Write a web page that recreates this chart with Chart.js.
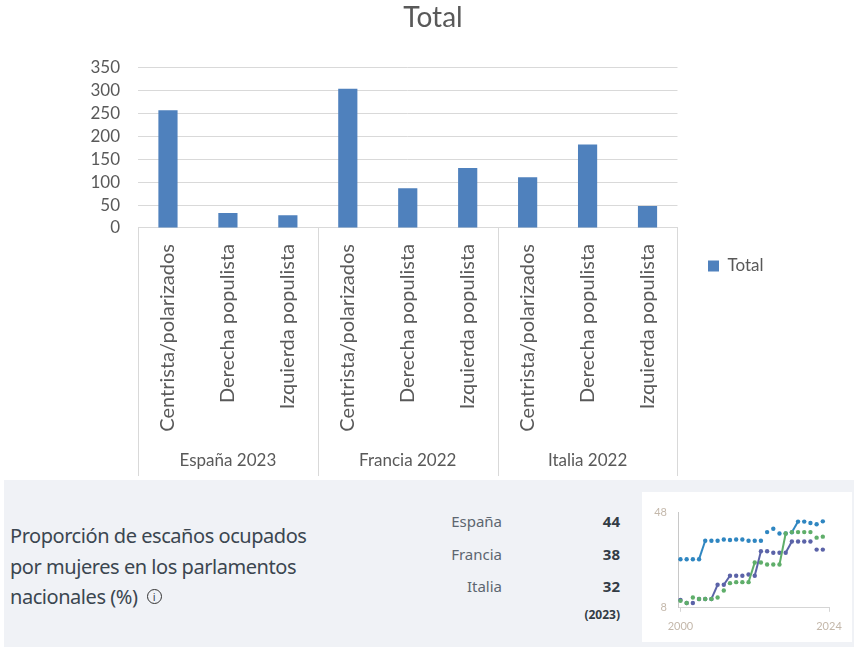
<!DOCTYPE html>
<html lang="es">
<head>
<meta charset="utf-8">
<title>Total</title>
<script src="https://cdn.jsdelivr.net/npm/chart.js@4"></script>
<style>
  html, body { margin: 0; padding: 0; background: #fff; }
  body { width: 854px; height: 647px; position: relative; overflow: hidden; font-family: "Noto Sans", sans-serif; }
  #totalChart { position: absolute; left: 0; top: 0; }
  #panel { position: absolute; left: 4px; top: 480px; width: 850px; height: 167px; background: #f0f2f6; }
  #card { position: absolute; left: 638px; top: 12px; width: 210px; height: 150px; background: #fff; }
  #seatsChart { position: absolute; left: 0; top: 0; }
  #label { position: absolute; left: 6px; top: 41px; font-size: 20px; line-height: 30.5px; color: #3b4650; letter-spacing: -0.45px; white-space: nowrap; }
  .info { display: inline-block; width: 13px; height: 13px; border: 1.5px solid #333; border-radius: 50%; font-size: 11px; line-height: 13px; text-align: center; margin-left: 9px; vertical-align: 3px; }
  .name, .val { position: absolute; font-size: 15px; line-height: 20px; white-space: nowrap; }
  .name { right: 352px; color: #5d6670; }
  .val { right: 234px; color: #333c45; font-weight: 700; }
  #year { position: absolute; right: 234px; top: 127px; font-size: 12px; line-height: 16px; font-weight: 700; color: #333c45; }
</style>
</head>
<body>
<canvas id="totalChart" width="854" height="478"></canvas>
<div id="panel">
  <div id="label">Proporción de escaños ocupados<br>por mujeres en los parlamentos<br>nacionales (%)<span class="info">i</span></div>
  <div id="rows"></div>
  <div id="year">(2023)</div>
  <div id="card"><canvas id="seatsChart" width="210" height="150"></canvas></div>
</div>
<script>
// Seats by bloc
const categories = ['Centrista/polarizados', 'Derecha populista', 'Izquierda populista',
  'Centrista/polarizados', 'Derecha populista', 'Izquierda populista',
  'Centrista/polarizados', 'Derecha populista', 'Izquierda populista'];
const groups = ['España 2023', 'Francia 2022', 'Italia 2022'];
const totals = [257, 33, 28, 304, 87, 131, 111, 182, 48];
const totalTicks = [0, 50, 100, 150, 200, 250, 300, 350];

// Women in parliament (%)
const years = [2000, 2001, 2002, 2003, 2004, 2005, 2006, 2007, 2008, 2009, 2010, 2011,
  2012, 2013, 2014, 2015, 2016, 2017, 2018, 2019, 2020, 2021, 2022, 2023];
const espana = [28.3, 28.3, 28.3, 28.3, 36, 36, 36, 36.5, 36.3, 36.5, 36.5, 36,
  36, 36, 39.6, 41, 39, 39, 39.5, 44, 44, 43.4, 42.9, 44.1];
const francia = [10.9, 10, 12.3, 11.7, 11.7, 11.7, 12.3, 15.2, 18.3, 18.7, 18.7, 18.7,
  26.9, 26.9, 26.1, 26.1, 26.1, 39, 39.6, 39.6, 39.6, 39.6, 37.3, 37.7];
const italia = [11.3, 10, 10, 11.7, 11.7, 11.7, 17.6, 17.6, 21.4, 21.4, 21.4, 21.9,
  21.4, 31.6, 31.6, 31, 31, 31, 35.7, 35.7, 35.7, 35.7, 32.3, 32.3];
const seatYearTicks = [2000, 2024];
const seatValueTicks = [8, 48];
const latestNames = ['España', 'Francia', 'Italia'];
const latestValues = [44, 38, 32];

const chartFont = 'Lato, sans-serif';

// Lines down from the axis between the country groups
const groupLines = {
  id: 'groupLines',
  afterDraw(chart) {
    const { ctx, scales: { x, x2 } } = chart;
    const step = (x.right - x.left) / groups.length;
    ctx.save();
    ctx.strokeStyle = '#d9d9d9';
    ctx.lineWidth = 1;
    for (let i = 0; i <= groups.length; i++) {
      const px = Math.round(x.left + step * i) + 0.5;
      ctx.beginPath();
      ctx.moveTo(px, x.top);
      ctx.lineTo(px, x2.bottom);
      ctx.stroke();
    }
    ctx.restore();
  }
};

// Title sits a bit right of the page centre and the legend lower than the library puts them
const nudgeBoxes = {
  id: 'nudgeBoxes',
  afterLayout(chart) {
    chart.titleBlock.left = 12;
    chart.titleBlock.right = 854;
    const legend = chart.legend;
    legend.left = 698;
    legend.right = 800;
    legend.top += 28;
    legend.bottom += 28;
  }
};

new Chart(document.getElementById('totalChart'), {
  type: 'bar',
  data: {
    labels: categories,
    datasets: [{
      label: 'Total',
      data: totals,
      backgroundColor: '#4f81bd',
      categoryPercentage: 1,
      barPercentage: 0.32
    }]
  },
  plugins: [groupLines, nudgeBoxes],
  options: {
    responsive: false,
    animation: false,
    layout: { padding: { left: 70, right: 101, bottom: 2 } },
    plugins: {
      title: {
        display: true,
        text: 'Total',
        color: '#595959',
        font: { family: chartFont, size: 28, weight: 'normal' },
        padding: { top: 1, bottom: 33 }
      },
      legend: {
        position: 'right',
        labels: {
          boxWidth: 11,
          boxHeight: 11,
          color: '#595959',
          font: { family: chartFont, size: 17 }
        }
      },
      tooltip: { enabled: false }
    },
    scales: {
      x: {
        offset: true,
        afterFit: s => { s.height = 222; },
        grid: { display: false },
        border: { color: '#d9d9d9' },
        ticks: {
          minRotation: 90,
          maxRotation: 90,
          autoSkip: false,
          padding: 8,
          color: '#595959',
          font: { family: chartFont, size: 20 }
        }
      },
      x2: {
        type: 'category',
        labels: groups,
        position: 'bottom',
        offset: true,
        afterFit: s => { s.height = 26; },
        grid: { display: false, tickLength: 0 },
        border: { display: false },
        ticks: {
          maxRotation: 0,
          padding: 0,
          color: '#595959',
          font: { family: chartFont, size: 17 }
        }
      },
      y: {
        min: 0,
        max: 350,
        afterFit: s => { s.width = 68; },
        afterBuildTicks: s => { s.ticks = totalTicks.map(value => ({ value })); },
        grid: { color: '#d9d9d9', drawTicks: false },
        border: { display: false },
        ticks: {
          autoSkip: false,
          padding: 18,
          color: '#595959',
          font: { family: chartFont, size: 17 }
        }
      }
    }
  }
});

// Only the big jumps get a visible line, the flat stretches stay as dots
const jumpSegment = color => ({
  borderColor: ctx => Math.abs(ctx.p1.parsed.y - ctx.p0.parsed.y) >= 3.7 ? color : 'transparent'
});

const seatSeries = (label, values, color) => ({
  label,
  data: years.map((year, i) => ({ x: year, y: values[i] })),
  borderColor: color,
  backgroundColor: color,
  borderWidth: 2,
  pointRadius: 2.2,
  pointBorderWidth: 0,
  segment: jumpSegment(color)
});

new Chart(document.getElementById('seatsChart'), {
  type: 'line',
  data: {
    datasets: [
      seatSeries('Francia', francia, '#5fae6a'),
      seatSeries('España', espana, '#2f86c1'),
      seatSeries('Italia', italia, '#5b63a8')
    ]
  },
  options: {
    responsive: false,
    animation: false,
    layout: { padding: { left: 2, right: 23, top: 20, bottom: 1 } },
    plugins: { legend: { display: false }, tooltip: { enabled: false } },
    scales: {
      x: {
        type: 'linear',
        min: 1999.6,
        max: 2024,
        afterBuildTicks: s => { s.ticks = seatYearTicks.map(value => ({ value })); },
        grid: { drawOnChartArea: false, tickLength: 4, color: '#d5d5d5' },
        border: { color: '#d5d5d5' },
        ticks: {
          maxRotation: 0,
          padding: 8,
          color: '#c4b8ab',
          callback: value => String(value),
          font: { family: chartFont, size: 11 }
        }
      },
      y: {
        min: 8,
        max: 48,
        afterFit: s => { s.width = 34; },
        afterBuildTicks: s => { s.ticks = seatValueTicks.map(value => ({ value })); },
        grid: { display: false },
        border: { color: '#c8c8c8' },
        ticks: {
          padding: 3,
          color: '#c4b8ab',
          font: { family: chartFont, size: 11 }
        }
      }
    }
  }
});

// Latest values next to the small chart
const rows = document.getElementById('rows');
latestNames.forEach((name, i) => {
  const top = 31 + i * 32.5;
  rows.insertAdjacentHTML('beforeend',
    `<div class="name" style="top:${top}px">${name}</div><div class="val" style="top:${top}px">${latestValues[i]}</div>`);
});
</script>
</body>
</html>
